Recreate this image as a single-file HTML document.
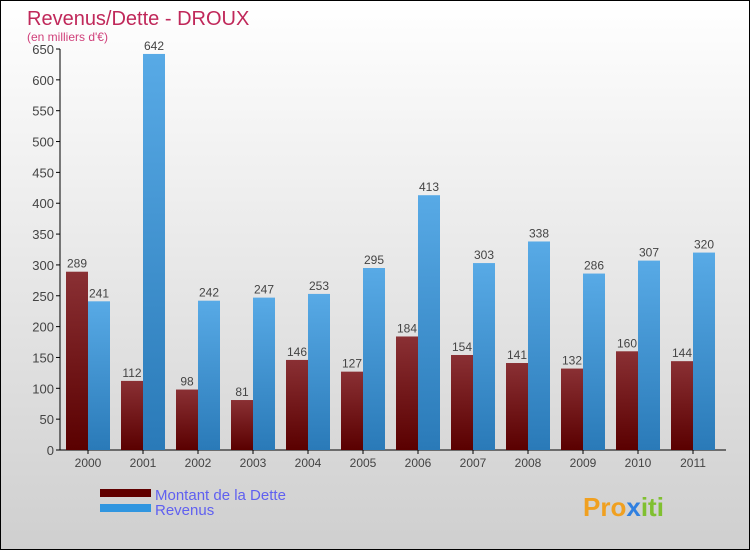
<!DOCTYPE html>
<html><head><meta charset="utf-8"><style>
html,body{margin:0;padding:0}
body{width:750px;height:550px;overflow:hidden;font-family:"Liberation Sans",sans-serif}
#wrap{position:absolute;left:0;top:0;width:748px;height:548px;border:1px solid #000;background:linear-gradient(#ffffff,#cfcfcf)}
</style></head><body>
<div id="wrap">
<svg id="svg" width="748" height="548" xmlns="http://www.w3.org/2000/svg">
<defs>
<linearGradient id="gd" x1="0" y1="0" x2="0" y2="1"><stop offset="0" stop-color="#8a3034"/><stop offset="1" stop-color="#5a0000"/></linearGradient>
<linearGradient id="gr" x1="0" y1="0" x2="0" y2="1"><stop offset="0" stop-color="#58aae6"/><stop offset="1" stop-color="#2a7ab8"/></linearGradient>
</defs>
<text x="26" y="24" font-size="20" fill="#c0285a">Revenus/Dette - DROUX</text>
<text x="26" y="40" font-size="12" fill="#d0407a">(en milliers d'€)</text>
<g id="plot"></g>
<rect x="99" y="488" width="51" height="8" fill="#600000"/>
<rect x="99" y="503" width="51" height="8" fill="#3096e0"/>
<text x="154" y="499" font-size="15" fill="#6060f0">Montant de la Dette</text>
<text x="154" y="514" font-size="15" fill="#6060f0">Revenus</text>
<text x="582" y="515" font-size="26" font-weight="bold" fill="#f0a020">Pro<tspan fill="#3080e0">x</tspan><tspan fill="#80c030">iti</tspan></text>
</svg>
</div>
<script>
const years=["2000","2001","2002","2003","2004","2005","2006","2007","2008","2009","2010","2011"];
const dette=[289,112,98,81,146,127,184,154,141,132,160,144];
const revenus=[241,642,242,247,253,295,413,303,338,286,307,320];
const yTicks=[0,50,100,150,200,250,300,350,400,450,500,550,600,650];
const NS="http://www.w3.org/2000/svg";
const g=document.getElementById("plot");
const y0=449,pxPer=(449-48)/650;
function y(v){return y0-v*pxPer;}
function xc(i){return 87+i*55;}
function mk(t,a){const e=document.createElementNS(NS,t);for(const k in a)e.setAttribute(k,a[k]);g.appendChild(e);return e;}
let ax=mk("line",{x1:59,y1:48,x2:59,y2:y0,stroke:"#000"});


let bx=mk("line",{x1:59,y1:y0,x2:725,y2:y0,stroke:"#000"});


yTicks.forEach(v=>{
 mk("line",{x1:55,y1:y(v),x2:59,y2:y(v),stroke:"#000"});
 let t=mk("text",{x:53,y:y(v)+5,"font-size":13,"text-anchor":"end",fill:"#444"});t.textContent=v;
 
 
});
years.forEach((yr,i)=>{
 const c=xc(i);
 let r1=mk("rect",{x:c-22,y:y(dette[i]),width:22,height:y0-y(dette[i]),fill:"url(#gd)"});
 
 
 let r2=mk("rect",{x:c,y:y(revenus[i]),width:22,height:y0-y(revenus[i]),fill:"url(#gr)"});
 
 
 let l1=mk("text",{x:c-11,y:y(dette[i])-4,"font-size":12,"text-anchor":"middle",fill:"#444"});l1.textContent=dette[i];
 
 
 let l2=mk("text",{x:c+11,y:y(revenus[i])-4,"font-size":12,"text-anchor":"middle",fill:"#444"});l2.textContent=revenus[i];
 
 
 mk("line",{x1:c,y1:y0,x2:c,y2:y0+4,stroke:"#000"});
 let xl=mk("text",{x:c,y:y0+17,"font-size":12,"text-anchor":"middle",fill:"#444"});xl.textContent=yr;
 
 
});
</script>
</body></html>
